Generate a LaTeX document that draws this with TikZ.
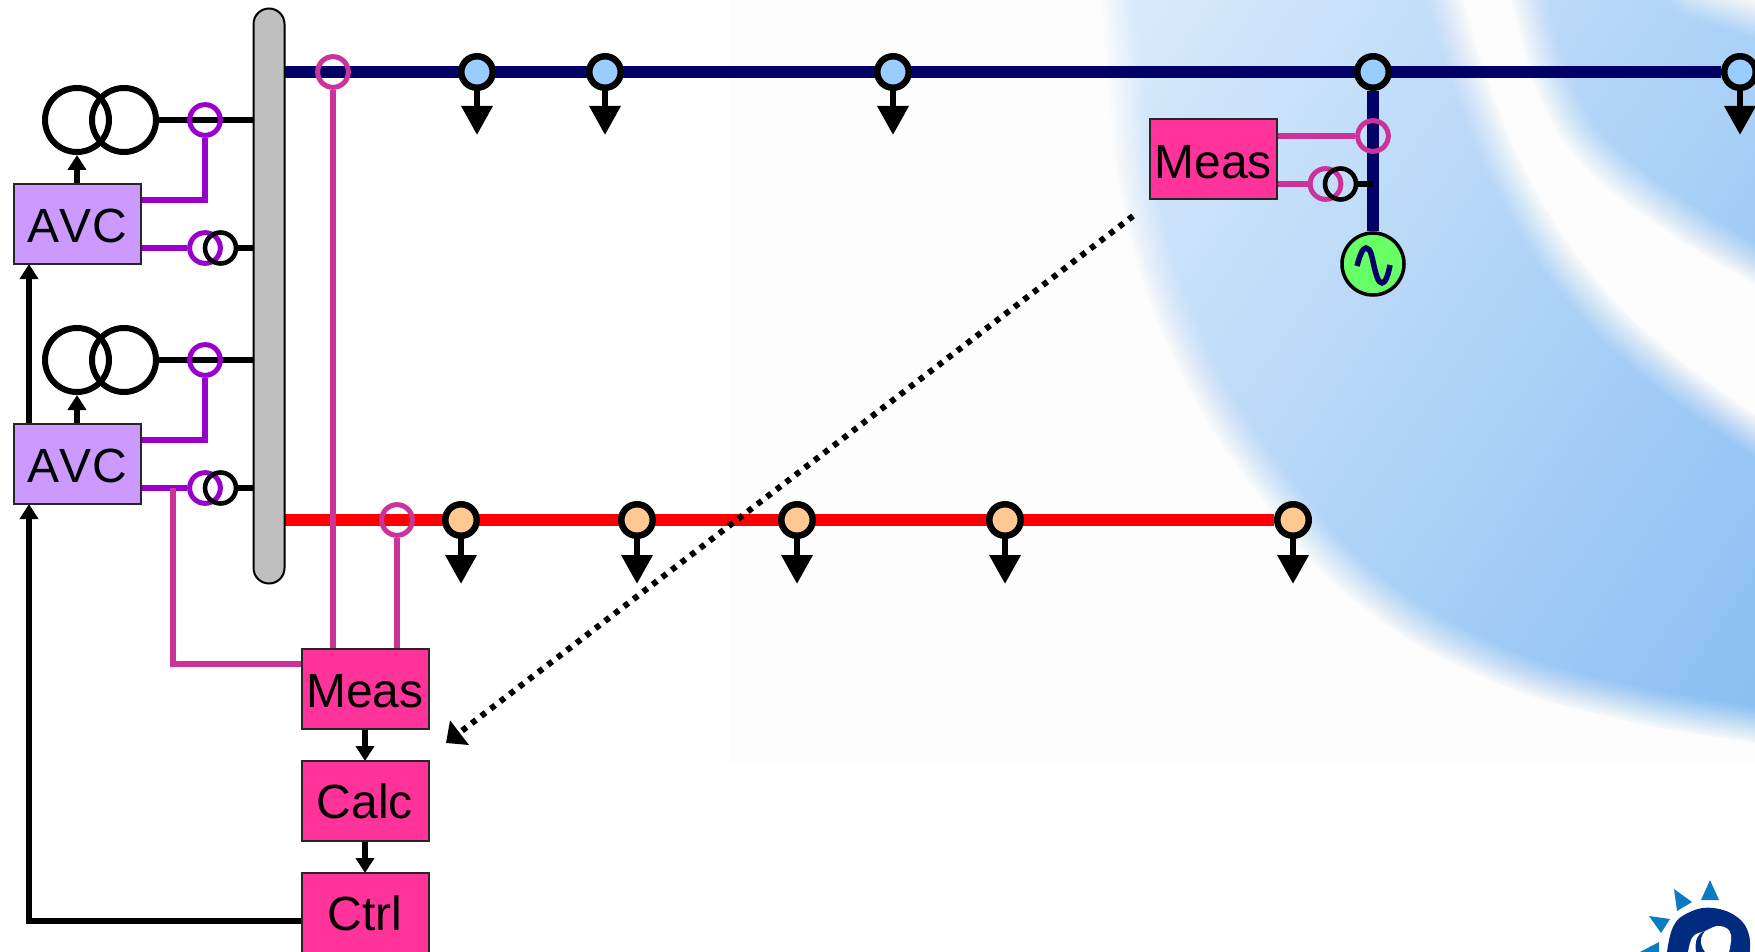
\documentclass[tikz,border=0pt]{standalone}
\usepackage{fontspec}
\setmainfont{Liberation Sans}
\usetikzlibrary{arrows.meta,calc}
\pgfdeclarelayer{bgl}
\pgfdeclarelayer{lines}
\pgfsetlayers{bgl,lines,main}
\definecolor{navyb}{HTML}{000066}
\definecolor{pinkl}{HTML}{CC3399}
\definecolor{purpl}{HTML}{9900CC}
\definecolor{boxp}{HTML}{FF3399}
\definecolor{boxv}{HTML}{CC99FF}
\definecolor{bluen}{HTML}{99CCFF}
\definecolor{orgn}{HTML}{FFC891}
\definecolor{genf}{HTML}{66FF66}
\definecolor{bga}{HTML}{D7E9FB}
\definecolor{bgb}{HTML}{8BBFF3}
\definecolor{bgw}{HTML}{FDFDFD}
\definecolor{logol}{HTML}{0B7BC4}
\definecolor{logod}{HTML}{002B7F}
\newcommand{\softregion}[1]{%
  \foreach \k in {1,...,20}{%
    \pgfmathsetmacro\alp{1/(21-\k)}%
    \pgfmathsetmacro\lw{2*38*(20-\k)/20}%
    \path[fill=bgw,draw=bgw,line width=\lw pt,opacity=\alp,line join=round] #1;%
  }%
}
\newcommand{\boxtext}[2]{\raisebox{-#1pt}[\height][\depth]{#2}}
\tikzset{
  boxbase/.style={draw=black!85,line width=2pt,minimum width=127pt,minimum height=80pt,inner sep=0pt,outer sep=0pt,font=\fontsize{48}{52}\selectfont},
  measbox/.style={boxbase,fill=boxp},
  avcbox/.style={boxbase,fill=boxv},
  opencirc/.style={circle,draw=#1,line width=5pt,minimum size=30.7pt,inner sep=0pt},
  ctring/.style={circle,draw=black,line width=4.6pt,minimum size=31pt,inner sep=0pt},
  trcirc/.style={circle,draw=black,line width=6pt,minimum size=64pt,inner sep=0pt},
  busnode/.style={circle,draw=black,fill=#1,line width=6.5pt,minimum size=31.5pt,inner sep=0pt},
  navyline/.style={draw=navyb,line width=12.5pt},
  redline/.style={draw=red,line width=12.5pt},
  pinkline/.style={draw=pinkl,line width=6.3pt},
  purpline/.style={draw=purpl,line width=6pt},
  blkline/.style={draw=black,line width=6pt},
  ctrlarrow/.style={blkline,-{Triangle[length=15pt,width=18pt]}},
  loadarrow/.style={draw=black,line width=6.5pt,-{Triangle[length=29pt,width=30pt]}},
}
\begin{document}
\begin{tikzpicture}[x=1pt,y=-1pt]
\useasboundingbox (0,0) rectangle (1755,952);
% nodes
\node[draw=black,fill=black!25,line width=2pt,minimum width=31pt,minimum height=575pt,rounded corners=15.5pt,inner sep=0pt,outer sep=0pt] (bar) at (269,296) {};
\node[avcbox] (avcA) at (77,224) {\boxtext{2}{A\kern.5ptV\kern.5ptC}};
\node[avcbox] (avcB) at (77,464) {\boxtext{2}{A\kern.5ptV\kern.5ptC}};
\node[trcirc] (trAl) at (77,120) {};
\node[trcirc] (trAr) at (124,120) {};
\node[trcirc] (trBl) at (77,360) {};
\node[trcirc] (trBr) at (124,360) {};
\node[opencirc=purpl] (vA) at (205,120) {};
\node[opencirc=purpl] (vB) at (205,360) {};
\node[opencirc=purpl] (iA) at (205,248) {};
\node[opencirc=purpl] (iB) at (205,488) {};
\node[ctring] (ctA) at (220.5,248) {};
\node[ctring] (ctB) at (220.5,488) {};
\node[opencirc=pinkl] (pA) at (333,72) {};
\node[opencirc=pinkl] (pB) at (397,520) {};
\node[measbox] (meas) at (365,688.5) {\boxtext{2.5}{Meas}};
\node[measbox] (calc) at (365,801) {Calc};
\node[measbox] (ctrl) at (365,913) {Ctrl};
\node[measbox] (measR) at (1213,159.5) {\boxtext{3}{Meas}};
\node[opencirc=pinkl] (pC) at (1373,136) {};
\node[opencirc=pinkl] (pD) at (1325.5,184) {};
\node[ctring] (ctC) at (1340.5,184) {};
\node[circle,draw=black,fill=genf,line width=3.5pt,minimum size=62pt,inner sep=0pt] (gen) at (1373,264) {};
\node[busnode=bluen] (b1) at (477,72) {};
\node[busnode=bluen] (b2) at (605,72) {};
\node[busnode=bluen] (b3) at (893,72) {};
\node[busnode=bluen] (b4) at (1373,72) {};
\node[busnode=bluen] (b5) at (1740,72) {};
\node[busnode=orgn] (r1) at (461,520) {};
\node[busnode=orgn] (r2) at (637,520) {};
\node[busnode=orgn] (r3) at (797,520) {};
\node[busnode=orgn] (r4) at (1005,520) {};
\node[busnode=orgn] (r5) at (1293,520) {};
\coordinate (lb1) at (477,135);
\coordinate (lb2) at (605,135);
\coordinate (lb3) at (893,135);
\coordinate (lb5) at (1740,135);
\coordinate (lr1) at (461,584);
\coordinate (lr2) at (637,584);
\coordinate (lr3) at (797,584);
\coordinate (lr4) at (1005,584);
\coordinate (lr5) at (1293,584);
\coordinate (jV) at (205,200);
\coordinate (jW) at (205,440);
\coordinate (brk) at (173,488);
\coordinate (brj) at (173,664);
\coordinate (fb) at (29,921);
\coordinate (dA) at (1133,216);
\coordinate (dB) at (446,743);
% sine and logo
\draw[navyb,line width=5.5pt] (1357,266) .. controls (1360,254) and (1363,248) .. (1366,248) .. controls (1371,248) and (1372,258) .. (1374,266) .. controls (1376,274) and (1378,283) .. (1382,283) .. controls (1385,283) and (1388,276) .. (1390,265);
\fill[logol] (1710,880) -- (1719,900) -- (1701,900) -- cycle;
\fill[logol] (1674,889) -- (1692,902) -- (1677,911) -- cycle;
\fill[logol] (1649,916) -- (1670,919) -- (1661,933) -- cycle;
\fill[logol] (1640,952) -- (1659,942) -- (1659,952) -- cycle;
\begin{scope}
\clip (1600,860) rectangle (1755,952);
\fill[logod] plot[smooth,tension=.7] coordinates {(1666,960) (1673,927) (1690,912) (1713,908) (1737,917) (1749,935) (1749,960)} -- cycle;
\fill[white] plot[smooth,tension=.7] coordinates {(1687,960) (1692,938) (1705,931) (1720,926) (1731,935) (1727,960)} -- cycle;
\fill[logod] (1705,931) .. controls (1696,934) and (1693,944) .. (1698,960) -- (1712,960) .. controls (1701,950) and (1697,940) .. (1705,931) -- cycle;
\end{scope}
% background
\begin{pgfonlayer}{bgl}
\fill[white] (0,0) rectangle (1755,952);
\begin{scope}
\clip (730,0) rectangle (1755,762);
\begin{scope}[shift={(1150,10)},rotate=-34.5]
\fill[bga] (-800,-1500) rectangle (2500,1500);
\foreach \i in {1,...,76}{
  \pgfmathsetmacro\p{\i/76*100}
  \pgfmathsetmacro\s{\i*11.645}
  \fill[bgb!\p!bga] (\s,-1500) rectangle (2500,1500);
}
\end{scope}
\softregion{plot[smooth,tension=.7] coordinates {(1098,-40) (1106,60) (1122,203) (1173,358) (1256,492) (1358,604) (1493,682) (1629,722) (1751,743) (1810,755)} -- (1810,900) -- (600,900) -- (600,-40) -- cycle}
\softregion{plot[smooth,tension=.7] coordinates {(1455,-40) (1464,0) (1493,92) (1535,187) (1600,283) (1687,365) (1810,450)} -- (1810,316) -- plot[smooth,tension=.7] coordinates {(1745,279) (1669,233) (1587,170) (1540,100) (1511,3) (1497,-40)} -- cycle}
\softregion{(1680,-40) -- (1700,-18) -- (1762,2) -- (1800,10) -- (1800,-60) -- cycle}
\end{scope}
\end{pgfonlayer}
% connectors
\begin{pgfonlayer}{lines}
\draw[navyline] (bar.east |- b1) -- (b5);
\draw[navyline] (b4) -- (gen);
\draw[redline] (bar.east |- r1) -- (r5);
\draw[blkline] (trAr.east) -- (bar.west |- trAr);
\draw[blkline] (trBr.east) -- (bar.west |- trBr);
\draw[blkline] (ctA.east) -- (bar.west |- ctA);
\draw[blkline] (ctB.east) -- (bar.west |- ctB);
\draw[blkline] (ctC.east) -- (gen |- ctC);
\draw[purpline] (vA.south) -- (jV) -- (jV -| avcA.east);
\draw[purpline] (vB.south) -- (jW) -- (jW -| avcB.east);
\draw[purpline] (iA.west) -- (iA -| avcA.east);
\draw[purpline] (iB.west) -- (iB -| avcB.east);
\draw[pinkline] (pA.south) -- (pA |- meas.north);
\draw[pinkline] (pB.south) -- (pB |- meas.north);
\draw[pinkline] (brk) -- (brj) -- (brj -| meas.west);
\draw[pinkline] (pC.west) -- (pC -| measR.east);
\draw[pinkline] (pD.west) -- (pD -| measR.east);
\draw[ctrlarrow] (avcA.north) -- (trAl.south);
\draw[ctrlarrow] (avcB.north) -- (trBl.south);
\draw[ctrlarrow] (avcB.north -| fb) -- (avcA.south -| fb);
\draw[ctrlarrow] (fb -| ctrl.west) -- (fb) -- (avcB.south -| fb);
\draw[ctrlarrow] (meas.south) -- (calc.north);
\draw[ctrlarrow] (calc.south) -- (ctrl.north);
\foreach \n in {b1,b2,b3,b5,r1,r2,r3,r4,r5}{\draw[loadarrow] (\n) -- (l\n);}
\draw[draw=black,line width=6pt,dash pattern=on 5.5pt off 6.5pt,-{Triangle[length=17pt,width=30pt]}] (dA) -- (dB);
\end{pgfonlayer}
\end{tikzpicture}
\end{document}
